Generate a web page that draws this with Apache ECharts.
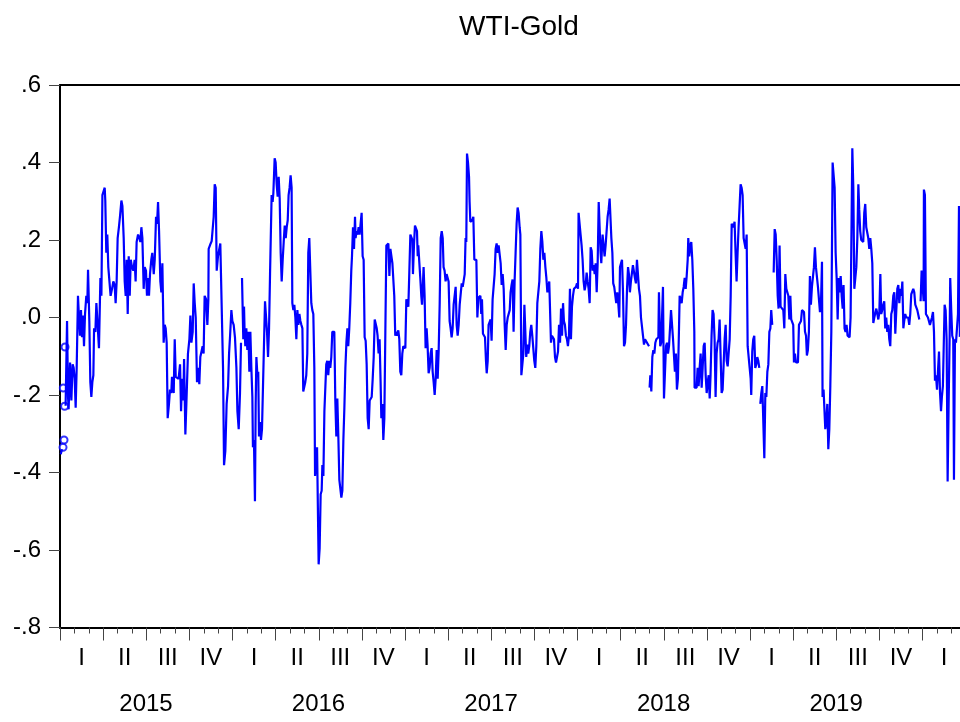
<!DOCTYPE html>
<html><head><meta charset="utf-8">
<script src="https://cdn.jsdelivr.net/npm/echarts@6/dist/echarts.min.js"></script>
<style>html,body{margin:0;padding:0;background:#fff}#c{width:960px;height:722px}</style>
</head><body><div id="c"></div>
<script>
const chartTitle = 'WTI-Gold';
const quarterLabels = ['I', 'II', 'III', 'IV'];
const firstYear = 2015;
const yMin = -0.8, yMax = 0.6, yStep = 0.2;
const xMax = 62.6; // months since Jan 2015 shown on the axis

// time of each observation, in months since 1 Jan 2015
const months = [
0.05,0.14,0.17,0.21,0.22,0.23,0.25,0.28,0.30,0.32,
0.33,0.35,0.37,0.39,0.49,0.56,0.60,0.70,0.79,0.88,
0.95,1.02,1.09,1.16,1.25,1.32,1.39,1.46,1.53,1.60,
1.67,1.74,1.83,1.90,1.95,2.04,2.11,2.18,2.25,2.32,
2.37,2.46,2.53,2.64,2.71,2.81,2.88,2.95,3.01,3.11,
3.15,3.22,3.29,3.36,3.46,3.52,3.62,3.71,3.80,3.87,
3.94,4.01,4.10,4.17,4.27,4.34,4.43,4.50,4.57,4.64,
4.71,4.78,4.85,4.92,5.01,5.10,5.19,5.26,5.33,5.43,
5.52,5.59,5.66,5.73,5.82,5.89,5.98,6.05,6.12,6.19,
6.26,6.35,6.42,6.52,6.59,6.68,6.75,6.82,6.89,6.98,
7.05,7.12,7.21,7.28,7.35,7.42,7.49,7.58,7.65,7.74,
7.79,7.91,7.98,8.05,8.14,8.25,8.35,8.42,8.49,8.58,
8.63,8.72,8.79,8.90,9.00,9.07,9.14,9.23,9.30,9.37,
9.44,9.53,9.62,9.69,9.76,9.85,9.92,9.99,10.06,10.16,
10.25,10.32,10.34,10.41,10.48,10.55,10.62,10.69,10.76,10.83,
10.90,10.99,11.08,11.15,11.25,11.34,11.41,11.50,11.59,11.69,
11.76,11.83,11.92,11.99,12.08,12.17,12.27,12.34,12.43,12.52,
12.59,12.62,12.66,12.75,12.80,12.84,12.89,12.96,13.03,13.10,
13.17,13.24,13.31,13.38,13.42,13.49,13.56,13.61,13.66,13.73,
13.79,13.84,13.91,13.98,14.05,14.12,14.19,14.26,14.33,14.40,
14.47,14.54,14.61,14.68,14.72,14.79,14.84,14.93,15.00,15.07,
15.14,15.21,15.28,15.35,15.42,15.49,15.56,15.63,15.70,15.77,
15.84,15.90,15.97,16.04,16.11,16.16,16.23,16.30,16.37,16.44,
16.51,16.58,16.65,16.72,16.79,16.86,16.92,16.99,17.06,17.13,
17.20,17.27,17.34,17.41,17.48,17.55,17.62,17.69,17.74,17.81,
17.88,17.94,17.99,18.06,18.13,18.20,18.25,18.32,18.39,18.45,
18.52,18.59,18.66,18.73,18.80,18.87,18.94,19.01,19.08,19.15,
19.22,19.29,19.36,19.43,19.50,19.57,19.64,19.71,19.78,19.85,
19.92,19.99,20.05,20.12,20.19,20.26,20.31,20.38,20.45,20.52,
20.56,20.63,20.70,20.77,20.84,20.91,20.98,21.05,21.12,21.19,
21.26,21.33,21.40,21.47,21.54,21.61,21.68,21.75,21.82,21.89,
21.96,22.03,22.09,22.16,22.23,22.30,22.35,22.42,22.49,22.56,
22.63,22.70,22.77,22.84,22.91,22.98,23.05,23.12,23.18,23.25,
23.32,23.39,23.46,23.53,23.60,23.67,23.74,23.81,23.88,23.95,
24.02,24.09,24.16,24.23,24.30,24.37,24.44,24.51,24.55,24.62,
24.69,24.76,24.83,24.88,24.92,24.99,25.06,25.13,25.18,25.22,
25.29,25.36,25.43,25.50,25.57,25.64,25.71,25.78,25.85,25.92,
25.99,26.06,26.13,26.20,26.27,26.34,26.41,26.48,26.55,26.62,
26.68,26.75,26.82,26.89,26.96,27.03,27.10,27.17,27.24,27.31,
27.38,27.45,27.52,27.59,27.66,27.73,27.80,27.87,27.94,28.01,
28.08,28.15,28.21,28.26,28.31,28.38,28.45,28.49,28.54,28.61,
28.68,28.75,28.82,28.89,28.96,29.03,29.10,29.17,29.24,29.30,
29.35,29.42,29.49,29.56,29.63,29.68,29.75,29.81,29.88,29.95,
30.02,30.09,30.16,30.23,30.30,30.37,30.44,30.51,30.58,30.65,
30.72,30.79,30.86,30.93,31.00,31.07,31.14,31.21,31.28,31.34,
31.41,31.48,31.55,31.62,31.69,31.76,31.83,31.90,31.97,32.02,
32.09,32.16,32.23,32.30,32.37,32.43,32.50,32.57,32.64,32.71,
32.78,32.85,32.92,32.99,33.06,33.13,33.20,33.27,33.34,33.41,
33.48,33.55,33.62,33.69,33.76,33.83,33.90,33.96,34.03,34.10,
34.15,34.22,34.29,34.36,34.43,34.50,34.57,34.64,34.71,34.78,
34.85,34.92,34.99,35.05,35.12,35.19,35.26,35.33,35.40,35.47,
35.54,35.61,35.68,35.75,35.82,35.89,35.96,36.03,36.07,36.14,
36.21,36.28,36.35,36.42,36.49,36.56,36.63,36.70,36.77,36.84,
36.91,36.98,37.05,37.12,37.19,37.26,37.33,37.40,37.47,37.54,
37.60,37.65,37.74,37.81,37.88,37.95,38.02,38.09,38.16,38.23,
38.30,38.35,38.42,38.48,38.55,38.62,38.69,38.76,38.83,38.90,
38.95,39.02,39.09,39.16,39.23,39.30,39.37,39.44,39.51,39.57,
39.64,39.71,39.78,39.85,39.92,39.99,40.06,40.13,40.20,40.27,
40.34,40.41,40.48,40.55,40.62,40.69,40.76,40.83,40.90,40.97,
40.99,41.01,41.06,41.13,41.20,41.27,41.34,41.41,41.48,41.55,
41.62,41.66,41.71,41.75,41.82,41.89,41.94,42.01,42.08,42.15,
42.22,42.29,42.36,42.43,42.50,42.57,42.64,42.70,42.77,42.84,
42.91,42.98,43.05,43.10,43.17,43.24,43.31,43.38,43.45,43.52,
43.59,43.66,43.70,43.77,43.84,43.91,43.98,44.05,44.12,44.14,
44.21,44.28,44.35,44.42,44.49,44.56,44.63,44.70,44.77,44.84,
44.91,44.98,45.05,45.12,45.19,45.25,45.32,45.39,45.46,45.53,
45.60,45.67,45.74,45.81,45.88,45.95,46.02,46.09,46.16,46.23,
46.30,46.37,46.44,46.51,46.58,46.65,46.72,46.79,46.85,46.92,
46.99,47.06,47.13,47.20,47.27,47.34,47.41,47.48,47.55,47.62,
47.69,47.76,47.83,47.90,47.97,48.04,48.08,48.15,48.22,48.29,
48.36,48.43,48.50,48.57,48.64,48.67,48.71,48.78,48.85,48.92,
48.99,49.06,49.13,49.20,49.27,49.34,49.41,49.47,49.54,49.59,
49.64,49.71,49.78,49.85,49.92,49.98,50.05,50.12,50.17,50.24,
50.31,50.38,50.45,50.52,50.59,50.66,50.73,50.80,50.86,50.93,
51.00,51.05,51.12,51.19,51.26,51.33,51.40,51.47,51.54,51.61,
51.68,51.75,51.82,51.89,51.95,52.02,52.09,52.16,52.23,52.30,
52.37,52.44,52.51,52.58,52.65,52.72,52.79,52.86,52.93,53.00,
53.04,53.11,53.18,53.23,53.30,53.37,53.44,53.51,53.58,53.65,
53.69,53.74,53.81,53.88,53.95,54.02,54.09,54.16,54.23,54.30,
54.37,54.44,54.50,54.57,54.64,54.71,54.78,54.85,54.92,54.99,
55.06,55.11,55.18,55.25,55.32,55.39,55.46,55.53,55.59,55.66,
55.73,55.80,55.87,55.94,56.01,56.08,56.15,56.22,56.29,56.36,
56.43,56.50,56.57,56.64,56.71,56.78,56.85,56.92,56.99,57.06,
57.12,57.19,57.26,57.33,57.40,57.47,57.54,57.61,57.68,57.75,
57.82,57.89,57.96,58.03,58.10,58.17,58.24,58.31,58.38,58.45,
58.52,58.59,58.66,58.72,58.79,58.86,58.93,59.00,59.07,59.14,
59.21,59.28,59.35,59.42,59.49,59.56,59.63,59.70,59.77,59.81,
59.86,59.93,60.00,60.07,60.09,60.16,60.23,60.30,60.37,60.44,
60.51,60.58,60.65,60.72,60.79,60.86,60.93,61.00,61.07,61.14,
61.21,61.28,61.34,61.41,61.48,61.53,61.60,61.67,61.74,61.81,
61.88,61.92,61.99,62.06,62.13,62.18,62.25,62.32,62.39,62.46,
62.53,62.59
];

// WTI-Gold value at each observation (null = missing)
const values = [
-0.353,-0.340,null,-0.335,null,-0.182,null,-0.316,null,-0.229,
null,-0.076,null,-0.228,-0.009,-0.205,-0.237,-0.116,-0.214,-0.121,
-0.130,-0.158,-0.233,-0.130,0.056,0.000,-0.047,0.019,-0.051,0.005,
-0.074,0.009,0.056,0.037,0.123,-0.009,-0.167,-0.205,-0.167,-0.149,
-0.028,-0.037,0.037,0.033,-0.079,0.102,0.056,0.316,0.321,0.335,
0.302,0.167,0.214,0.130,0.135,0.056,0.074,0.093,0.084,0.037,
0.093,0.205,0.234,0.260,0.302,0.288,0.205,0.093,0.056,0.149,
0.009,0.158,0.056,0.149,0.130,0.121,0.149,0.093,0.195,0.214,
0.205,0.195,0.233,0.205,0.074,0.130,0.121,0.056,0.102,0.056,
0.112,0.149,0.167,0.112,0.149,0.260,0.242,0.298,0.223,0.093,
0.065,0.140,-0.065,-0.019,-0.028,-0.065,-0.260,-0.223,-0.186,-0.195,
-0.153,-0.195,-0.056,-0.153,-0.158,-0.158,-0.121,-0.242,-0.158,-0.214,
-0.107,-0.302,-0.223,-0.093,-0.056,0.005,-0.065,-0.037,0.088,0.037,
0.000,-0.167,-0.130,-0.172,-0.102,-0.102,-0.074,-0.093,0.056,0.047,
-0.019,0.047,0.177,0.177,0.191,0.197,0.200,0.260,0.344,0.335,
0.121,0.158,0.158,0.191,0.193,-0.130,-0.381,-0.344,-0.223,-0.177,
-0.093,-0.047,0.019,-0.009,-0.019,-0.051,-0.130,-0.242,-0.288,-0.195,
-0.065,null,0.102,-0.056,0.028,-0.037,-0.074,-0.028,-0.084,-0.037,
-0.140,-0.037,-0.130,-0.205,-0.335,-0.316,-0.474,-0.223,-0.102,-0.149,
-0.140,-0.307,-0.270,-0.316,-0.288,-0.177,-0.177,0.042,0.037,-0.037,
-0.102,-0.028,0.112,0.107,0.316,0.298,0.321,0.411,0.400,0.344,
0.312,0.363,0.307,0.167,0.093,0.149,0.195,0.237,0.205,0.233,
0.251,0.316,0.335,0.367,0.335,0.037,0.019,0.033,0.000,-0.056,
0.019,-0.019,0.009,-0.009,-0.019,-0.028,-0.191,-0.186,-0.167,-0.149,
-0.093,0.167,0.205,0.205,0.037,0.019,0.009,-0.130,-0.409,-0.363,
-0.335,-0.335,-0.637,-0.595,-0.456,-0.447,-0.381,-0.409,-0.242,-0.242,
-0.121,-0.112,-0.149,-0.112,-0.130,-0.102,-0.037,-0.033,-0.037,-0.214,
-0.307,-0.209,-0.307,-0.419,-0.423,-0.465,-0.447,-0.316,-0.233,-0.130,
-0.065,-0.028,-0.074,-0.028,0.037,0.121,0.158,0.233,0.177,0.260,
0.205,0.223,0.214,0.233,0.214,0.214,0.270,0.158,0.149,-0.051,
-0.060,-0.121,-0.260,-0.288,-0.214,-0.219,-0.205,-0.158,-0.102,-0.005,
-0.009,-0.028,-0.047,-0.093,-0.056,-0.167,-0.260,-0.223,-0.316,-0.260,
-0.037,0.186,0.186,0.191,0.107,0.177,0.172,0.140,0.140,0.056,
-0.047,-0.037,-0.047,-0.033,-0.056,-0.140,-0.149,-0.093,-0.074,-0.074,
-0.079,0.047,0.047,0.028,0.121,0.214,0.219,0.200,0.112,0.186,
0.237,0.233,0.223,0.158,0.186,0.186,0.102,0.056,0.033,0.065,
0.130,0.056,-0.079,-0.028,-0.074,-0.144,-0.130,-0.093,-0.079,-0.140,
-0.167,-0.200,-0.158,-0.084,-0.158,-0.084,0.037,0.205,0.223,0.205,
0.130,0.121,0.093,0.112,0.107,0.093,-0.009,-0.028,-0.051,-0.028,
0.033,0.028,0.079,-0.019,-0.047,-0.019,0.033,0.028,0.088,0.079,
0.074,0.112,0.205,0.195,0.423,0.400,0.363,0.298,0.247,0.242,
0.251,0.260,0.149,0.149,0.149,0.000,0.051,0.047,0.056,0.009,
0.047,-0.042,-0.042,-0.051,-0.112,-0.144,-0.112,-0.019,-0.019,-0.005,
-0.060,0.047,0.042,0.112,0.177,0.191,0.167,0.186,0.186,0.140,
0.084,0.112,0.074,-0.019,-0.084,-0.019,0.000,0.005,0.019,0.065,
0.084,0.098,-0.037,0.093,0.167,0.242,0.284,0.270,0.233,0.214,
-0.149,-0.121,-0.093,0.033,0.033,-0.102,-0.070,-0.093,-0.074,-0.037,
-0.019,-0.047,-0.047,-0.112,-0.130,-0.074,0.037,0.037,0.093,0.177,
0.223,0.195,0.149,0.167,0.130,0.102,0.065,0.074,0.093,0.093,
-0.065,-0.047,-0.051,-0.056,-0.102,-0.116,-0.102,-0.088,-0.019,-0.065,
0.023,-0.047,0.037,-0.009,-0.019,-0.047,-0.056,-0.074,-0.047,0.074,
-0.056,0.028,0.056,0.074,0.079,0.079,0.088,0.074,0.270,0.265,
0.214,0.186,0.149,0.093,0.070,0.084,0.116,0.093,0.074,0.037,
0.181,0.172,0.121,0.135,0.112,0.140,0.065,0.144,0.298,0.298,
0.167,0.140,0.214,0.186,0.158,0.186,0.186,0.260,0.279,0.307,
0.312,0.205,0.167,0.088,0.079,0.074,0.037,0.065,0.037,0.000,
0.130,0.130,0.149,0.065,-0.074,-0.065,-0.019,0.074,0.130,0.112,
0.065,0.093,0.093,0.135,0.130,0.102,0.088,0.149,0.153,0.074,
0.056,0.000,0.000,-0.047,-0.070,-0.056,-0.056,-0.065,-0.065,-0.074,
null,-0.181,-0.149,-0.191,-0.102,-0.084,-0.093,-0.065,-0.056,-0.056,
-0.051,0.065,0.065,-0.074,-0.065,-0.070,0.079,-0.209,-0.205,-0.074,
-0.065,-0.093,-0.074,-0.079,0.019,0.019,-0.056,-0.056,-0.140,-0.093,
-0.186,-0.158,-0.037,0.056,0.060,0.037,0.065,0.079,0.102,0.074,
0.107,0.149,0.205,0.158,0.186,0.195,0.149,0.074,-0.037,-0.181,
-0.177,-0.181,-0.130,-0.177,-0.130,-0.093,-0.181,-0.130,-0.074,-0.065,
-0.149,-0.195,-0.167,-0.149,-0.209,-0.149,-0.047,0.019,0.009,-0.056,
-0.205,-0.093,-0.065,-0.056,-0.005,-0.009,-0.195,-0.186,-0.121,-0.056,
-0.019,-0.112,-0.126,-0.121,-0.056,0.056,0.242,0.242,0.233,0.247,
0.167,0.093,0.167,0.233,0.288,0.344,0.335,0.316,0.205,0.209,
0.177,0.214,-0.074,-0.079,-0.130,-0.158,-0.200,-0.088,-0.056,-0.047,
-0.130,-0.121,-0.102,-0.112,-0.130,null,-0.223,-0.195,-0.177,-0.172,
-0.363,-0.195,-0.205,-0.140,-0.121,-0.037,-0.028,0.019,-0.019,null,
0.116,0.228,0.214,0.149,0.056,0.023,0.186,0.028,0.028,0.028,
0.019,-0.028,0.112,0.074,0.079,0.056,-0.005,0.056,-0.005,0.000,
-0.019,-0.116,-0.093,-0.116,-0.112,-0.116,-0.019,-0.019,-0.009,0.019,
0.023,0.014,-0.037,-0.047,-0.098,-0.084,-0.037,0.107,0.033,0.079,
0.079,0.130,0.181,0.130,0.126,0.079,0.084,0.014,0.037,0.144,
-0.205,-0.186,-0.191,-0.288,-0.270,-0.223,-0.340,-0.288,-0.177,-0.037,
-0.037,0.400,0.400,0.335,0.167,0.102,-0.005,0.102,0.065,0.107,
0.056,0.023,0.084,-0.028,-0.037,-0.019,-0.047,-0.051,-0.051,0.000,
0.000,0.437,0.335,0.074,0.102,0.130,0.205,0.344,0.279,0.223,
0.200,0.195,0.195,0.270,0.293,0.233,0.233,0.205,0.177,0.205,
0.177,0.140,-0.014,0.000,0.000,0.023,0.019,-0.005,0.014,0.112,
0.009,0.019,0.033,0.042,-0.028,0.000,-0.037,-0.019,-0.056,-0.074,
0.009,0.019,0.056,0.065,-0.042,0.019,0.074,0.084,0.037,0.074,
0.056,0.093,-0.028,-0.009,0.009,0.000,-0.005,0.000,-0.019,0.009,
0.060,0.065,0.074,0.065,0.033,0.033,0.019,0.014,-0.005,null,
0.042,0.121,0.121,0.042,0.330,0.316,0.009,0.009,0.000,0.005,
-0.019,-0.009,0.000,0.014,-0.037,-0.163,-0.149,-0.186,-0.181,-0.088,
-0.195,-0.242,-0.205,-0.177,-0.181,0.033,0.019,-0.056,-0.423,-0.223,
-0.047,0.102,0.019,-0.047,-0.056,-0.419,-0.056,-0.065,-0.065,0.009,
0.288,-0.050
];

if (months.length !== values.length) throw new Error('length mismatch ' + months.length + ' vs ' + values.length);

const FONT = '"Liberation Sans", Arial, Helvetica, sans-serif';
const lineData = months.map((m, i) => [m, values[i] == null ? '-' : values[i]]);
const isolated = [];
for (let i = 0; i < values.length; i++) {
  if (values[i] == null) continue;
  const prevNull = i === 0 || values[i - 1] == null;
  const nextNull = i === values.length - 1 || values[i + 1] == null;
  if (prevNull && nextNull) isolated.push([months[i], values[i]]);
}

function fmtY(v) {
  let s = (Math.round(v * 10) / 10).toFixed(1);
  if (s === '-0.0') s = '0.0';
  return s.replace('0.', '.');
}

const labelBase = { fontFamily: FONT, fontSize: 24, color: '#000' };
const chart = echarts.init(document.getElementById('c'), null, { renderer: 'canvas' });
chart.setOption({
  animation: false,
  backgroundColor: '#fff',
  title: {
    text: chartTitle, left: 514, top: 8, textAlign: 'center',
    textStyle: { fontFamily: FONT, fontSize: 28, fontWeight: 'normal', color: '#000' }
  },
  grid: { left: 60, top: 85, right: 0, bottom: 94.5, containLabel: false },
  xAxis: [
    {
      type: 'value', min: 0, max: xMax, interval: 3, position: 'bottom',
      axisLine: { show: true, onZero: false, lineStyle: { color: '#000', width: 2 } },
      axisTick: { show: true, length: 13, lineStyle: { color: '#444', width: 1 } },
      minorTick: { show: true, splitNumber: 3, length: 6, lineStyle: { color: '#444', width: 1 } },
      axisLabel: { show: false }, splitLine: { show: false }
    },
    {
      type: 'value', min: 0, max: xMax, interval: 3, position: 'bottom',
      axisLine: { show: false, onZero: false }, axisTick: { show: false }, splitLine: { show: false },
      axisLabel: Object.assign({}, labelBase, {
        show: true, showMaxLabel: false, showMinLabel: true, margin: 19,
        padding: [0, 0, 0, 43],
        formatter: v => v > 60.5 ? '' : quarterLabels[Math.round(v / 3) % 4]
      })
    },
    {
      type: 'value', min: 0, max: xMax, interval: 12, position: 'bottom',
      axisLine: { show: false, onZero: false }, axisTick: { show: false }, splitLine: { show: false },
      axisLabel: Object.assign({}, labelBase, {
        show: true, showMaxLabel: false, showMinLabel: true, margin: 65,
        padding: [0, 0, 0, 172],
        formatter: v => v >= 59 ? '' : String(firstYear + Math.round(v / 12))
      })
    },
    {
      type: 'value', min: 0, max: xMax, position: 'top',
      axisLine: { show: true, onZero: false, lineStyle: { color: '#000', width: 2 } },
      axisTick: { show: false }, axisLabel: { show: false }, splitLine: { show: false }
    }
  ],
  yAxis: {
    type: 'value', min: yMin, max: yMax, interval: yStep,
    axisLine: { show: true, onZero: false, lineStyle: { color: '#000', width: 2 } },
    axisTick: { show: true, length: 11, lineStyle: { color: '#444', width: 1 } },
    axisLabel: Object.assign({}, labelBase, { margin: 19, formatter: fmtY }),
    splitLine: { show: false }
  },
  series: [
    {
      type: 'line', xAxisIndex: 0, yAxisIndex: 0, data: lineData,
      symbol: 'none', showSymbol: false, connectNulls: false, clip: true, silent: true,
      lineStyle: { color: '#0000ff', width: 2.2 }, itemStyle: { color: '#0000ff' }
    },
    {
      type: 'scatter', xAxisIndex: 0, yAxisIndex: 0, data: isolated,
      symbol: 'emptyCircle', symbolSize: 7, silent: true, clip: false,
      itemStyle: { color: '#0000ff', borderColor: '#0000ff', borderWidth: 1.2 }
    }
  ]
});
</script>
</body></html>
